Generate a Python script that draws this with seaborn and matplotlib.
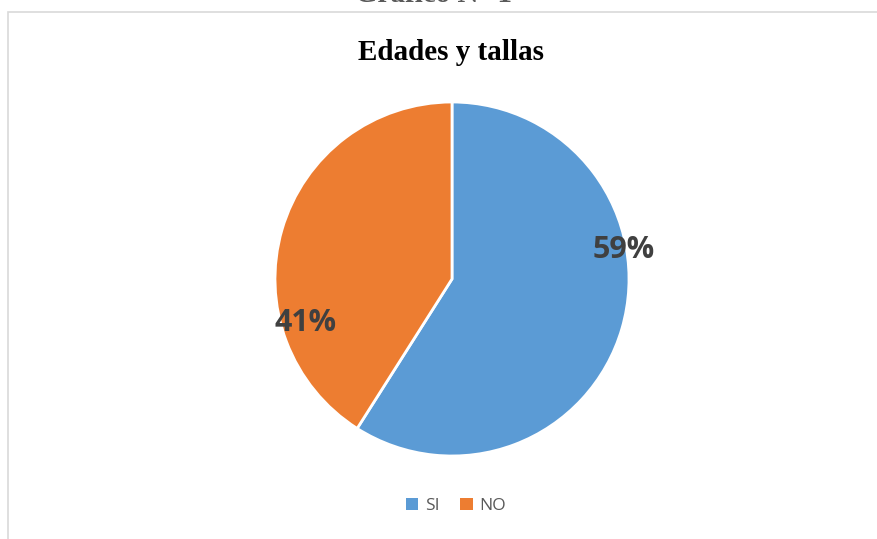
import matplotlib.pyplot as plt
from matplotlib.patches import Patch, Rectangle
import seaborn as sns

categories = ['SI', 'NO']
values = [59, 41]
label_pos = [(0.97, 0.165), (-0.83, -0.25)]

sns.set_theme(style='white')
plt.rcParams['font.family'] = ['Open Sans', 'DejaVu Sans']

colors = ['#5B9BD5', '#ED7D31']
W, H = 878, 539
fig = plt.figure(figsize=(W / 100, H / 100), dpi=100)

# outer chart border (runs off right/bottom edge like the screenshot)
fig.patches.append(Rectangle((8 / W, -0.05), 1.2, 1 - 12 / H + 0.05, transform=fig.transFigure,
                             fill=False, edgecolor='#D9D9D9', linewidth=1.2))

cx, cy, r = 452, 279, 177
ax = fig.add_axes([(cx - r) / W, (H - cy - r) / H, 2 * r / W, 2 * r / H])
wedges, _ = ax.pie(values, colors=colors, startangle=90, counterclock=False, radius=1,
                   wedgeprops=dict(edgecolor='white', linewidth=2))
ax.set_xlim(-1, 1)
ax.set_ylim(-1, 1)
ax.axis('off')

for v, (x, y) in zip(values, label_pos):
    ax.text(x, y, f'{v}%', ha='center', va='center', fontsize=22, fontweight='bold',
            color='#404040', clip_on=False)

fig.text(451 / W, 1 - 53 / H, 'Edades y tallas', ha='center', va='center', fontsize=21,
         fontweight='bold', family=['Liberation Serif', 'DejaVu Serif'], color='black')
fig.text(434 / W, 1 - 2 / H, 'Gráfico N° 1', ha='center', va='baseline', fontsize=21,
         fontweight='bold', family=['Liberation Serif', 'DejaVu Serif'], color='#595959')

handles = [Patch(facecolor=c, edgecolor='none', label=l) for c, l in zip(colors, categories)]
fig.legend(handles=handles, loc='center', bbox_to_anchor=(456 / W, 1 - 506 / H), ncol=2,
           frameon=False, handlelength=0.7, handleheight=0.7, handletextpad=0.4,
           columnspacing=1.2, prop={'size': 12.5})
for t in fig.legends[0].get_texts():
    t.set_color('#595959')

fig.savefig('out.png', dpi=100, facecolor='white')
